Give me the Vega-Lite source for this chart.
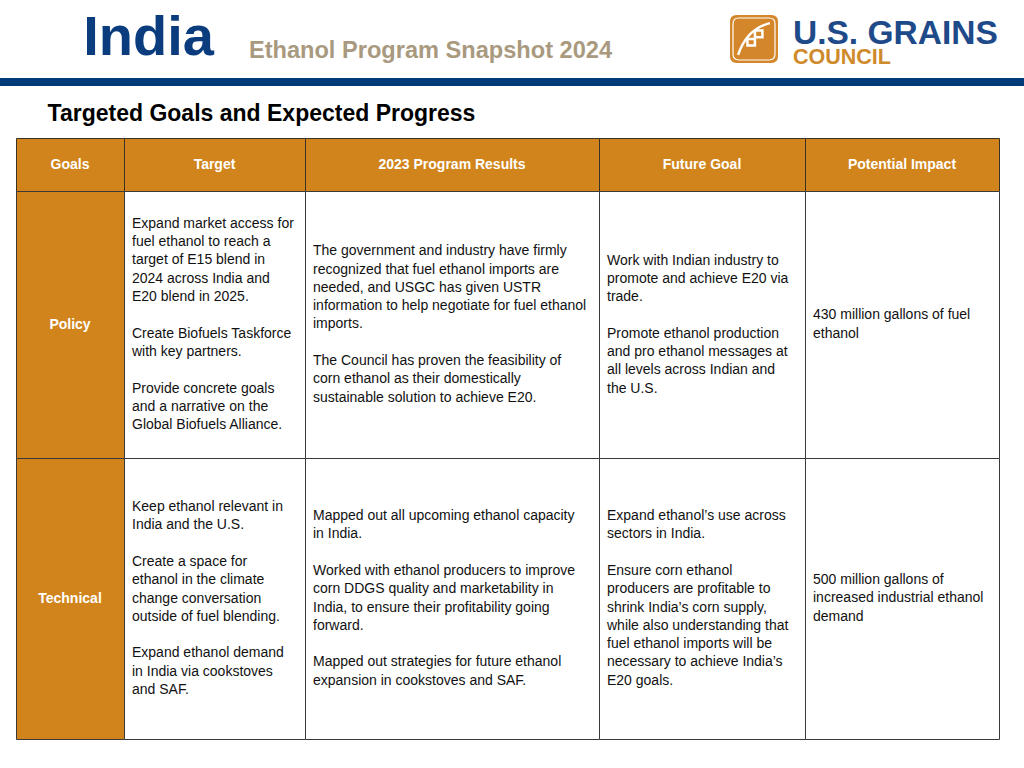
{
  "$schema": "https://vega.github.io/schema/vega-lite/v6.json",
  "padding": 0,
  "background": "#ffffff",
  "spacing": 0,
  "config": {"view": {"stroke": null}, "concat": {"spacing": 0}},
  "datasets": {
    "banner": [
      {"part": "country", "text": "India"},
      {"part": "subtitle", "text": "Ethanol Program Snapshot 2024"},
      {"part": "org", "text": "U.S. GRAINS"},
      {"part": "org2", "text": "COUNCIL"},
      {"part": "section", "text": "Targeted Goals and Expected Progress"}
    ],
    "columns": [
      {"column": "Goals"},
      {"column": "Target"},
      {"column": "2023 Program Results"},
      {"column": "Future Goal"},
      {"column": "Potential Impact"}
    ],
    "table": [
      {"goal": "Policy", "column": "Goals", "text": "Policy"},
      {"goal": "Policy", "column": "Target", "text": "Expand market access for\nfuel ethanol to reach a\ntarget of E15 blend in\n2024 across India and\nE20 blend in 2025.\n\u200b\nCreate Biofuels Taskforce\nwith key partners.\n\u200b\nProvide concrete goals\nand a narrative on the\nGlobal Biofuels Alliance."},
      {"goal": "Policy", "column": "2023 Program Results", "text": "The government and industry have firmly\nrecognized that fuel ethanol imports are\nneeded, and USGC has given USTR\ninformation to help negotiate for fuel ethanol\nimports.\n\u200b\nThe Council has proven the feasibility of\ncorn ethanol as their domestically\nsustainable solution to achieve E20."},
      {"goal": "Policy", "column": "Future Goal", "text": "Work with Indian industry to\npromote and achieve E20 via\ntrade.\n\u200b\nPromote ethanol production\nand pro ethanol messages at\nall levels across Indian and\nthe U.S."},
      {"goal": "Policy", "column": "Potential Impact", "text": "430 million gallons of fuel\nethanol"},
      {"goal": "Technical", "column": "Goals", "text": "Technical"},
      {"goal": "Technical", "column": "Target", "text": "Keep ethanol relevant in\nIndia and the U.S.\n\u200b\nCreate a space for\nethanol in the climate\nchange conversation\noutside of fuel blending.\n\u200b\nExpand ethanol demand\nin India via cookstoves\nand SAF."},
      {"goal": "Technical", "column": "2023 Program Results", "text": "Mapped out all upcoming ethanol capacity\nin India.\n\u200b\nWorked with ethanol producers to improve\ncorn DDGS quality and marketability in\nIndia, to ensure their profitability going\nforward.\n\u200b\nMapped out strategies for future ethanol\nexpansion in cookstoves and SAF."},
      {"goal": "Technical", "column": "Future Goal", "text": "Expand ethanol’s use across\nsectors in India.\n\u200b\nEnsure corn ethanol\nproducers are profitable to\nshrink India’s corn supply,\nwhile also understanding that\nfuel ethanol imports will be\nnecessary to achieve India’s\nE20 goals."},
      {"goal": "Technical", "column": "Potential Impact", "text": "500 million gallons of\nincreased industrial ethanol\ndemand"}
    ]
  },
  "vconcat": [
    {
      "spacing": 0,
      "bounds": "flush",
      "hconcat": [
        {"width": 297, "height": 78, "data": {"name": "banner"}, "transform": [{"filter": "datum.part === 'country'"}],
         "mark": {"type": "text", "font": "Liberation Sans", "fontWeight": "bold", "fontSize": 56, "fill": "#0b3d7e", "align": "center", "baseline": "middle", "dy": -1},
         "encoding": {"text": {"field": "text"}}},
        {"width": 267, "height": 78, "data": {"name": "banner"}, "transform": [{"filter": "datum.part === 'subtitle'"}],
         "mark": {"type": "text", "font": "Liberation Sans", "fontWeight": "bold", "fontSize": 23.6, "fill": "#a99a7f", "align": "center", "baseline": "top"},
         "encoding": {"text": {"field": "text"}}},
        {"width": 166, "height": 78, "data": {"values": []}, "mark": "point", "encoding": {}},
        {"width": 48, "height": 78, "data": {"values": [{"icon": "USGC"}]},
         "layer": [
           {"mark": {"type": "point", "shape": "M-0.72,-1 L0.72,-1 Q1,-1 1,-0.72 L1,0.72 Q1,1 0.72,1 L-0.72,1 Q-1,1 -1,0.72 L-1,-0.72 Q-1,-1 -0.72,-1 Z", "size": 2304, "filled": true, "fill": "#d3862a", "strokeWidth": 0, "opacity": 1}, "encoding": {}},
           {"mark": {"type": "point", "shape": "M-0.72,-1 L0.72,-1 Q1,-1 1,-0.72 L1,0.72 Q1,1 0.72,1 L-0.72,1 Q-1,1 -1,0.72 L-1,-0.72 Q-1,-1 -0.72,-1 Z", "size": 1764, "filled": false, "stroke": "#ffffff", "strokeWidth": 1.2, "opacity": 1}, "encoding": {}},
           {"mark": {"type": "point", "shape": "M-0.85,0.85 C-0.6,0.1 -0.15,-0.6 0.85,-0.85 M-0.35,0 L0.05,0 L0.05,0.35 L-0.35,0.35 Z M0.05,-0.45 L0.45,-0.45 L0.45,-0.1 L0.05,-0.1 Z", "size": 1400, "filled": false, "stroke": "#ffffff", "strokeWidth": 2.5, "opacity": 1}, "encoding": {}}
         ]},
        {"width": 15, "height": 78, "data": {"values": []}, "mark": "point", "encoding": {}},
        {"width": 231, "height": 78, "data": {"name": "banner"},
         "resolve": {"scale": {"x": "independent"}},
         "layer": [
           {"transform": [{"filter": "datum.part === 'org'"}],
            "mark": {"type": "text", "font": "Liberation Sans", "fontWeight": "bold", "fontSize": 33.5, "fill": "#1f4a8a", "align": "left", "baseline": "alphabetic", "dy": 5},
            "encoding": {"text": {"field": "text"}, "x": {"field": "part", "type": "nominal", "axis": null, "bandPosition": 0, "scale": {"type": "band", "paddingInner": 0, "paddingOuter": 0}}}},
           {"transform": [{"filter": "datum.part === 'org2'"}],
            "mark": {"type": "text", "font": "Liberation Sans", "fontWeight": "bold", "fontSize": 21.5, "fill": "#cf8a2c", "align": "left", "baseline": "alphabetic", "dy": 25},
            "encoding": {"text": {"field": "text"}, "x": {"field": "part", "type": "nominal", "axis": null, "bandPosition": 0, "scale": {"type": "band", "paddingInner": 0, "paddingOuter": 0}}}}
         ]}
      ]
    },
    {"width": 1024, "height": 8, "view": {"fill": "#003b79"}, "data": {"values": []}, "mark": "point", "encoding": {}},
    {
      "spacing": 0,
      "bounds": "flush",
      "hconcat": [
        {"width": 46, "height": 51, "data": {"values": []}, "mark": "point", "encoding": {}},
        {"width": 431, "height": 34, "data": {"name": "banner"}, "transform": [{"filter": "datum.part === 'section'"}],
         "mark": {"type": "text", "font": "Liberation Sans", "fontWeight": "bold", "fontSize": 23, "fill": "#000000", "align": "center", "baseline": "top"},
         "encoding": {"text": {"field": "text"}}}
      ]
    },
    {
      "columns": 6,
      "spacing": 0,
      "bounds": "flush",
      "align": "each",
      "concat": [
        {"width": 16, "height": 53, "data": {"values": []}, "mark": "point", "encoding": {}},
        {"width": 108, "height": 53, "view": {"fill": "#d0841b", "stroke": "#3b3226", "strokeWidth": 1}, "data": {"name": "columns"}, "transform": [{"filter": "datum.column === 'Goals'"}],
         "mark": {"type": "text", "font": "Liberation Sans", "fontWeight": "bold", "fontSize": 14, "fill": "#ffffff", "align": "center", "baseline": "middle"},
         "encoding": {"text": {"field": "column"}}},
        {"width": 181, "height": 53, "view": {"fill": "#d0841b", "stroke": "#3b3226", "strokeWidth": 1}, "data": {"name": "columns"}, "transform": [{"filter": "datum.column === 'Target'"}],
         "mark": {"type": "text", "font": "Liberation Sans", "fontWeight": "bold", "fontSize": 14, "fill": "#ffffff", "align": "center", "baseline": "middle"},
         "encoding": {"text": {"field": "column"}}},
        {"width": 294, "height": 53, "view": {"fill": "#d0841b", "stroke": "#3b3226", "strokeWidth": 1}, "data": {"name": "columns"}, "transform": [{"filter": "datum.column === '2023 Program Results'"}],
         "mark": {"type": "text", "font": "Liberation Sans", "fontWeight": "bold", "fontSize": 14, "fill": "#ffffff", "align": "center", "baseline": "middle"},
         "encoding": {"text": {"field": "column"}}},
        {"width": 206, "height": 53, "view": {"fill": "#d0841b", "stroke": "#3b3226", "strokeWidth": 1}, "data": {"name": "columns"}, "transform": [{"filter": "datum.column === 'Future Goal'"}],
         "mark": {"type": "text", "font": "Liberation Sans", "fontWeight": "bold", "fontSize": 14, "fill": "#ffffff", "align": "center", "baseline": "middle"},
         "encoding": {"text": {"field": "column"}}},
        {"width": 194, "height": 53, "view": {"fill": "#d0841b", "stroke": "#3b3226", "strokeWidth": 1}, "data": {"name": "columns"}, "transform": [{"filter": "datum.column === 'Potential Impact'"}],
         "mark": {"type": "text", "font": "Liberation Sans", "fontWeight": "bold", "fontSize": 14, "fill": "#ffffff", "align": "center", "baseline": "middle"},
         "encoding": {"text": {"field": "column"}}},

        {"width": 16, "height": 267, "data": {"values": []}, "mark": "point", "encoding": {}},
        {"width": 108, "height": 267, "view": {"fill": "#d0841b", "stroke": "#3a3a3a", "strokeWidth": 1}, "data": {"name": "table"}, "transform": [{"filter": "datum.goal === 'Policy' && datum.column === 'Goals'"}],
         "mark": {"type": "text", "font": "Liberation Sans", "fontWeight": "bold", "fontSize": 14, "fill": "#ffffff", "align": "center", "baseline": "middle"},
         "encoding": {"text": {"field": "text"}}},
        {"width": 181, "height": 267, "view": {"fill": "#ffffff", "stroke": "#3a3a3a", "strokeWidth": 1}, "data": {"name": "table"}, "transform": [{"filter": "datum.goal === 'Policy' && datum.column === 'Target'"}],
         "mark": {"type": "text", "font": "Liberation Sans", "fontSize": 14, "lineHeight": 18.3, "lineBreak": "\n", "fill": "#111111", "align": "left", "baseline": "middle", "dx": 8, "dy": -100.6},
         "encoding": {"text": {"field": "text"}, "x": {"field": "column", "type": "nominal", "axis": null, "bandPosition": 0, "scale": {"type": "band", "paddingInner": 0, "paddingOuter": 0}}}},
        {"width": 294, "height": 267, "view": {"fill": "#ffffff", "stroke": "#3a3a3a", "strokeWidth": 1}, "data": {"name": "table"}, "transform": [{"filter": "datum.goal === 'Policy' && datum.column === '2023 Program Results'"}],
         "mark": {"type": "text", "font": "Liberation Sans", "fontSize": 14, "lineHeight": 18.3, "lineBreak": "\n", "fill": "#111111", "align": "left", "baseline": "middle", "dx": 8, "dy": -73.2},
         "encoding": {"text": {"field": "text"}, "x": {"field": "column", "type": "nominal", "axis": null, "bandPosition": 0, "scale": {"type": "band", "paddingInner": 0, "paddingOuter": 0}}}},
        {"width": 206, "height": 267, "view": {"fill": "#ffffff", "stroke": "#3a3a3a", "strokeWidth": 1}, "data": {"name": "table"}, "transform": [{"filter": "datum.goal === 'Policy' && datum.column === 'Future Goal'"}],
         "mark": {"type": "text", "font": "Liberation Sans", "fontSize": 14, "lineHeight": 18.3, "lineBreak": "\n", "fill": "#111111", "align": "left", "baseline": "middle", "dx": 8, "dy": -64},
         "encoding": {"text": {"field": "text"}, "x": {"field": "column", "type": "nominal", "axis": null, "bandPosition": 0, "scale": {"type": "band", "paddingInner": 0, "paddingOuter": 0}}}},
        {"width": 194, "height": 267, "view": {"fill": "#ffffff", "stroke": "#3a3a3a", "strokeWidth": 1}, "data": {"name": "table"}, "transform": [{"filter": "datum.goal === 'Policy' && datum.column === 'Potential Impact'"}],
         "mark": {"type": "text", "font": "Liberation Sans", "fontSize": 14, "lineHeight": 18.3, "lineBreak": "\n", "fill": "#111111", "align": "left", "baseline": "middle", "dx": 8, "dy": -9.2},
         "encoding": {"text": {"field": "text"}, "x": {"field": "column", "type": "nominal", "axis": null, "bandPosition": 0, "scale": {"type": "band", "paddingInner": 0, "paddingOuter": 0}}}},

        {"width": 16, "height": 281, "data": {"values": []}, "mark": "point", "encoding": {}},
        {"width": 108, "height": 281, "view": {"fill": "#d0841b", "stroke": "#3a3a3a", "strokeWidth": 1}, "data": {"name": "table"}, "transform": [{"filter": "datum.goal === 'Technical' && datum.column === 'Goals'"}],
         "mark": {"type": "text", "font": "Liberation Sans", "fontWeight": "bold", "fontSize": 14, "fill": "#ffffff", "align": "center", "baseline": "middle"},
         "encoding": {"text": {"field": "text"}}},
        {"width": 181, "height": 281, "view": {"fill": "#ffffff", "stroke": "#3a3a3a", "strokeWidth": 1}, "data": {"name": "table"}, "transform": [{"filter": "datum.goal === 'Technical' && datum.column === 'Target'"}],
         "mark": {"type": "text", "font": "Liberation Sans", "fontSize": 14, "lineHeight": 18.3, "lineBreak": "\n", "fill": "#111111", "align": "left", "baseline": "middle", "dx": 8, "dy": -91.5},
         "encoding": {"text": {"field": "text"}, "x": {"field": "column", "type": "nominal", "axis": null, "bandPosition": 0, "scale": {"type": "band", "paddingInner": 0, "paddingOuter": 0}}}},
        {"width": 294, "height": 281, "view": {"fill": "#ffffff", "stroke": "#3a3a3a", "strokeWidth": 1}, "data": {"name": "table"}, "transform": [{"filter": "datum.goal === 'Technical' && datum.column === '2023 Program Results'"}],
         "mark": {"type": "text", "font": "Liberation Sans", "fontSize": 14, "lineHeight": 18.3, "lineBreak": "\n", "fill": "#111111", "align": "left", "baseline": "middle", "dx": 8, "dy": -82.4},
         "encoding": {"text": {"field": "text"}, "x": {"field": "column", "type": "nominal", "axis": null, "bandPosition": 0, "scale": {"type": "band", "paddingInner": 0, "paddingOuter": 0}}}},
        {"width": 206, "height": 281, "view": {"fill": "#ffffff", "stroke": "#3a3a3a", "strokeWidth": 1}, "data": {"name": "table"}, "transform": [{"filter": "datum.goal === 'Technical' && datum.column === 'Future Goal'"}],
         "mark": {"type": "text", "font": "Liberation Sans", "fontSize": 14, "lineHeight": 18.3, "lineBreak": "\n", "fill": "#111111", "align": "left", "baseline": "middle", "dx": 8, "dy": -82.4},
         "encoding": {"text": {"field": "text"}, "x": {"field": "column", "type": "nominal", "axis": null, "bandPosition": 0, "scale": {"type": "band", "paddingInner": 0, "paddingOuter": 0}}}},
        {"width": 194, "height": 281, "view": {"fill": "#ffffff", "stroke": "#3a3a3a", "strokeWidth": 1}, "data": {"name": "table"}, "transform": [{"filter": "datum.goal === 'Technical' && datum.column === 'Potential Impact'"}],
         "mark": {"type": "text", "font": "Liberation Sans", "fontSize": 14, "lineHeight": 18.3, "lineBreak": "\n", "fill": "#111111", "align": "left", "baseline": "middle", "dx": 8, "dy": -18.3},
         "encoding": {"text": {"field": "text"}, "x": {"field": "column", "type": "nominal", "axis": null, "bandPosition": 0, "scale": {"type": "band", "paddingInner": 0, "paddingOuter": 0}}}}
      ]
    }
  ]
}
